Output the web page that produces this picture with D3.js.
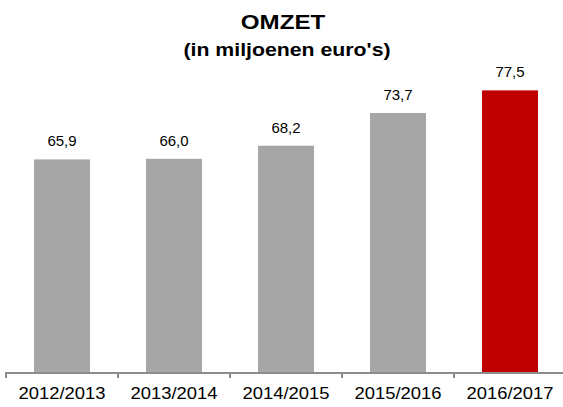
<!DOCTYPE html>
<html>
<head>
<meta charset="utf-8">
<script src="https://cdn.jsdelivr.net/npm/d3@7"></script>
<style>
  body { margin: 0; background: #fff; }
  text { font-family: "Liberation Sans", Arial, sans-serif; fill: #000; }
</style>
</head>
<body>
<div id="plot"></div>
<script>
const seasons = ["2012/2013", "2013/2014", "2014/2015", "2015/2016", "2016/2017"];
const omzet = [65.9, 66.0, 68.2, 73.7, 77.5];
const labels = ["65,9", "66,0", "68,2", "73,7", "77,5"];

const width = 563, height = 407;
const stretch = 1.15; // text in the picture is a bit wide

const svg = d3.select("#plot").append("svg")
  .attr("width", width)
  .attr("height", height);

const x = d3.scaleBand()
  .domain(seasons)
  .range([6, 566])
  .paddingInner(0.5)
  .paddingOuter(0.25);

const y = d3.scaleLinear()
  .domain([30, 80])
  .range([373, 75.5]);

const data = seasons.map((s, i) => ({ season: s, value: omzet[i], label: labels[i] }));

svg.selectAll(".bar")
  .data(data)
  .enter().append("rect")
  .attr("class", "bar")
  .attr("x", d => x(d.season))
  .attr("y", d => y(d.value))
  .attr("width", x.bandwidth())
  .attr("height", d => y(30) - y(d.value))
  .attr("fill", (d, i) => i === data.length - 1 ? "#c00000" : "#a6a6a6");

svg.selectAll(".val")
  .data(data)
  .enter().append("text")
  .attr("class", "val")
  .attr("x", d => x(d.season) + x.bandwidth() / 2)
  .attr("y", d => y(d.value) - 13)
  .attr("text-anchor", "middle")
  .style("font-size", "15px")
  .text(d => d.label);

// axis with ticks on the band edges
const axis = svg.append("g")
  .attr("transform", "translate(0,373)");

axis.append("line")
  .attr("x1", x.range()[0] - 1).attr("x2", x.range()[1])
  .attr("stroke", "#8c8c8c").attr("stroke-width", 2);

const edge = x.step() * x.paddingOuter();
axis.selectAll(".tk")
  .data(seasons)
  .enter().append("line")
  .attr("class", "tk")
  .attr("x1", d => x(d) - edge)
  .attr("x2", d => x(d) - edge)
  .attr("y1", 0).attr("y2", 5)
  .attr("stroke", "#8c8c8c").attr("stroke-width", 2);

axis.selectAll(".lbl")
  .data(seasons)
  .enter().append("text")
  .attr("class", "lbl")
  .attr("transform", d => `translate(${x(d) + x.bandwidth() / 2},26) scale(${stretch},1)`)
  .attr("text-anchor", "middle")
  .style("font-size", "16px")
  .text(d => d);

svg.append("text")
  .attr("transform", `translate(283,29) scale(${stretch},1)`)
  .attr("text-anchor", "middle")
  .style("font-size", "21px")
  .style("font-weight", "bold")
  .text("OMZET");

svg.append("text")
  .attr("transform", `translate(287,56) scale(${stretch},1)`)
  .attr("text-anchor", "middle")
  .style("font-size", "18.5px")
  .style("font-weight", "bold")
  .text("(in miljoenen euro's)");
</script>
</body>
</html>
